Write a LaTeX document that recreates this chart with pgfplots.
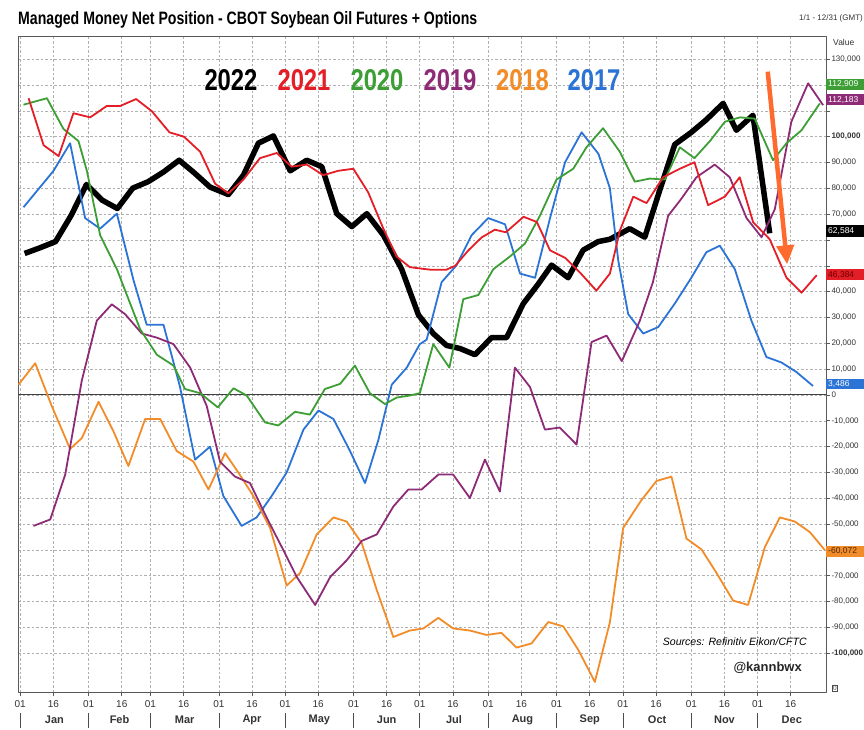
\documentclass[border=0pt]{standalone}
\usepackage{pgfplots}
\pgfplotsset{compat=1.18}
\usepackage{fontspec}
\setmainfont{Liberation Sans}
\usetikzlibrary{arrows.meta}
\definecolor{cRed}{HTML}{E41E26}
\definecolor{cGreen}{HTML}{3C9E34}
\definecolor{cPurple}{HTML}{8E2B76}
\definecolor{cOrange}{HTML}{F28C28}
\definecolor{cBlue}{HTML}{2B73D4}
\definecolor{cArrow}{HTML}{FF6A2E}
\definecolor{cGrid}{HTML}{B0B0B0}
\begin{document}
\begin{tikzpicture}[x=1pt,y=1pt]
\useasboundingbox (0,0) rectangle (864,729);
\node[anchor=base west, inner sep=0] at (18,704) {\resizebox{459pt}{13pt}{\bfseries Managed Money Net Position - CBOT Soybean Oil Futures + Options}};
\node[anchor=east, inner sep=0, font=\fontsize{8}{9}\selectfont, text=black!80] at (863,711) {1/1 - 12/31 (GMT)};
\begin{axis}[
  at={(18pt,37pt)}, anchor=south west, scale only axis,
  width=808pt, height=656pt,
  xmin=-1, xmax=365, ymin=-115, ymax=139,
  clip=false,
  axis line style={black!65, line width=0.8pt},
  xtick={0,15,31,46,59,74,90,105,120,135,151,166,181,196,212,227,243,258,273,288,304,319,334,349},
  xticklabels={01,16,01,16,01,16,01,16,01,16,01,16,01,16,01,16,01,16,01,16,01,16,01,16},
  xtick pos=bottom, xtick align=outside,
  ytick={-100,-90,...,130},
  yticklabels={\textbf{-100,000},{-90,000},{-80,000},{-70,000},{},{-50,000},{-40,000},{-30,000},{-20,000},{-10,000},0,{10,000},{20,000},{30,000},{40,000},{},{},{70,000},{80,000},{90,000},\textbf{100,000},{},{},{130,000}},
  ytick pos=right, yticklabel pos=right, ytick align=outside,
  major tick length=4pt,
  tick style={black!65, line width=0.7pt},
  grid=major,
  grid style={cGrid, dash pattern=on 2.5pt off 2pt, line width=0.6pt},
  xticklabel style={font=\fontsize{10}{11}\selectfont, text=black!80, yshift=-1pt},
  yticklabel style={font=\fontsize{8}{9}\selectfont, text=black!80, anchor=west, xshift=-2pt},
  extra y ticks={0}, extra y tick labels={},
  extra y tick style={grid style={solid, black!75, line width=1pt}, major tick length=0pt},
  /pgf/number format/assume math mode=true,
  line join=round,
]
% 2022
\addplot[black, line width=5.5pt] coordinates {(2,54.8) (9,57.0) (16,59.4) (23,69.4) (30,81.5) (37,75.5) (44,72.2) (51,80.1) (58,82.6) (65,86.4) (72,90.9) (79,85.9) (86,80.5) (94.3,77.6) (101.1,85.1) (107.9,97.5) (114.7,100.3) (122.3,86.8) (129.8,90.9) (136.6,88.4) (143.4,70.2) (150.2,65.2) (157,70.2) (164.5,61.9) (172.8,48.7) (180.4,31) (187.1,23.8) (193.1,19.2) (199.2,18) (206,15.6) (213.5,22.2) (220.3,22.2) (227.9,35.4) (234.6,42.9) (240.7,50.3) (248.2,45.4) (255,56.1) (261.8,59.4) (267.1,60.3) (276.1,64.4) (282.9,61.1) (289.7,79.3) (296.5,97) (304,101.7) (310.8,106.6) (318.4,112.9) (324.4,102.5) (331.9,108.3) (339.5,62.6)};
% 2017
\addplot[cBlue, line width=1.8pt] coordinates {(1.5,72.7) (15.1,86.8) (22.6,97.5) (29.4,68.5) (36.2,64.4) (43.8,70.2) (51.3,44.5) (57.3,27.2) (64.9,27.2) (72.4,3.1) (79.2,-25) (86,-20) (92,-39.1) (100.3,-50.7) (107.1,-47.4) (113.9,-39.1) (120.7,-30) (128.3,-13.4) (135.1,-6) (141.9,-9.3) (149.4,-21.7) (156.2,-34.1) (162.2,-17.5) (168.3,4) (175.1,10.6) (181,19.7) (184.1,21.4) (190.9,43.7) (197.7,50.3) (204.5,61.9) (212,68.5) (219.6,66.1) (226.4,47) (233.2,45.4) (240,68.5) (246.8,90.1) (254.3,101.7) (261.9,93.4) (267.1,80.1) (270.9,52) (275.4,31.3) (282.2,23.8) (289,26.3) (296.5,35.4) (304,45.4) (310.8,55.3) (316.9,57.8) (323.7,48.7) (331.2,28.8) (338,14.7) (344.8,12.6) (351.6,8.9) (359.1,3.5)};
% 2018
\addplot[cOrange, line width=1.8pt] coordinates {(-0.75,4) (6.8,12.3) (14.3,-4.3) (22.6,-20.9) (27.9,-16.7) (35.5,-2.6) (42.3,-14.2) (49,-27.5) (56.6,-9.3) (63.4,-9.3) (70.9,-21.7) (78.5,-25.8) (85.3,-36.6) (92.8,-22.5) (98.8,-30) (105.6,-39.1) (113.2,-51.5) (120.7,-73.8) (126.8,-68.9) (134.3,-54) (141.9,-47.4) (147.9,-49) (154.7,-57.3) (161.5,-75.5) (169,-93.7) (176.5,-91.2) (182.6,-90.4) (189.4,-86.3) (196.1,-90.4) (203.7,-91.2) (211.2,-92.9) (218,-92.1) (224.8,-97.8) (231.6,-96.2) (239.2,-87.9) (246,-89.6) (252.8,-98.7) (260.3,-111.1) (267.1,-88) (273.1,-51.5) (281.4,-40.7) (288.2,-33.3) (295,-31.6) (301.8,-55.6) (308.6,-59.8) (315.4,-68.9) (322.9,-79.6) (329.7,-81.3) (337.3,-58.9) (344.1,-47.4) (350.9,-49) (357.7,-53.1) (364.5,-60.1)};
% 2019
\addplot[cPurple, line width=1.8pt] coordinates {(6,-50.7) (13.6,-48.2) (20.4,-30.8) (27.9,5.6) (34.7,28.8) (41.5,35.1) (47.5,31.3) (55.1,23.8) (61.9,22.2) (69.4,19.7) (77,10.6) (84.5,-4.3) (90.5,-25.8) (97.3,-31.6) (104.1,-34.1) (111.6,-47.4) (118.5,-58.9) (125.3,-70.5) (133.6,-81.3) (140.4,-70.5) (148,-63.9) (154.7,-56.5) (161.5,-54) (169,-43.2) (175.8,-36.6) (181.8,-36.6) (189.4,-30.8) (196.1,-30.8) (203.7,-39.9) (210.5,-25) (217.3,-37.4) (224.1,10.6) (230.9,3.1) (237.7,-13.4) (244.4,-12.6) (252,-19.2) (258.8,20.5) (265.6,23) (272.5,13.1) (280.7,28.8) (286.6,43.7) (293.5,69.4) (299.5,76) (306.3,84.3) (314.6,89.2) (321.4,84.3) (329,68.5) (335.8,61.1) (341.8,71.9) (349.3,105.8) (356.9,120.7) (363.7,112.2)};
% 2020
\addplot[cGreen, line width=1.8pt] coordinates {(1.5,112.4) (12.1,114.9) (19.6,103) (26.4,98.3) (30.2,86.8) (36.2,61.9) (43.8,48.7) (54.3,25.5) (61.9,15.6) (69.4,11.4) (74.7,2.3) (81.5,0.7) (89.5,-4.8) (96.6,2.6) (102.6,-0.2) (110.9,-10.6) (116.9,-11.8) (124.5,-6.5) (131.2,-7.6) (138,2.3) (144.9,4.3) (151.6,11.4) (158.4,0.7) (165.2,-3.5) (170.5,-1) (176.5,-0.2) (181,0.7) (187.1,19.7) (194.4,10.6) (200.7,37.1) (207.5,38.7) (214.3,48.7) (221.8,53.6) (228.6,58.6) (235.4,69.4) (242.9,83.4) (250.5,87.6) (256.5,95.9) (264,103.3) (271.6,94.2) (278.4,82.6) (285.2,83.8) (292,83.4) (298.8,95.9) (305.4,91.7) (312.4,98.3) (319.2,105.8) (326,107.5) (332.7,107) (341,90.9) (347.1,97.5) (353.9,102.5) (362.2,112.9)};
% 2021
\addplot[cRed, line width=1.8pt] coordinates {(3.8,114.9) (10.6,96.7) (17.4,92.5) (24.1,109.1) (31.7,107.5) (39.2,111.9) (45.3,111.9) (52.5,114.6) (59.6,109.9) (67.6,101.7) (74.2,100) (81.5,94.2) (88.3,81.8) (94.3,78.1) (101.1,83.4) (108.6,91.7) (116.2,93.7) (122.9,88.4) (129.8,89.2) (137.3,85.1) (144,86.8) (150.9,87.6) (157.6,78.5) (164.5,64.4) (170.5,53.6) (176.5,49.5) (181,49) (186,48.5) (193,48.5) (197,50) (203,56) (209,61) (215,64) (220,63) (228,69) (234,67) (240,56) (247,53) (254,47) (261,40.4) (267.1,47) (271.6,63.6) (277.7,76.8) (283.7,74.3) (291.2,84.3) (298.8,87.6) (305.4,90.1) (311.6,73.5) (319.2,76.8) (325.9,84.3) (332,66.9) (339.5,60.3) (347.1,45.4) (353.9,39.6) (360.8,46.4)};
% annotation arrow
\draw[cArrow, line width=4.5pt, -{Triangle[length=19pt,width=17pt]}] (axis cs:338.6,125.2) -- (axis cs:347.4,50.6);
% month labels
\node[font=\fontsize{11}{12}\selectfont\bfseries, text=black!80] at (axis cs:15.5,-115) [yshift=-28pt] {Jan};
\node[font=\fontsize{11}{12}\selectfont\bfseries, text=black!80] at (axis cs:45,-115) [yshift=-28pt] {Feb};
\node[font=\fontsize{11}{12}\selectfont\bfseries, text=black!80] at (axis cs:74.5,-115) [yshift=-28pt] {Mar};
\node[font=\fontsize{11}{12}\selectfont\bfseries, text=black!80] at (axis cs:105,-115) [yshift=-28pt] {Apr};
\node[font=\fontsize{11}{12}\selectfont\bfseries, text=black!80] at (axis cs:135.5,-115) [yshift=-28pt] {May};
\node[font=\fontsize{11}{12}\selectfont\bfseries, text=black!80] at (axis cs:166,-115) [yshift=-28pt] {Jun};
\node[font=\fontsize{11}{12}\selectfont\bfseries, text=black!80] at (axis cs:196.5,-115) [yshift=-28pt] {Jul};
\node[font=\fontsize{11}{12}\selectfont\bfseries, text=black!80] at (axis cs:227.5,-115) [yshift=-28pt] {Aug};
\node[font=\fontsize{11}{12}\selectfont\bfseries, text=black!80] at (axis cs:258,-115) [yshift=-28pt] {Sep};
\node[font=\fontsize{11}{12}\selectfont\bfseries, text=black!80] at (axis cs:288.5,-115) [yshift=-28pt] {Oct};
\node[font=\fontsize{11}{12}\selectfont\bfseries, text=black!80] at (axis cs:319,-115) [yshift=-28pt] {Nov};
\node[font=\fontsize{11}{12}\selectfont\bfseries, text=black!80] at (axis cs:349.5,-115) [yshift=-28pt] {Dec};
% month separators
\draw[black!70, line width=0.8pt] ([yshift=-21pt]axis cs:0,-115) -- ([yshift=-36pt]axis cs:0,-115);
\draw[black!70, line width=0.8pt] ([yshift=-21pt]axis cs:31,-115) -- ([yshift=-36pt]axis cs:31,-115);
\draw[black!70, line width=0.8pt] ([yshift=-21pt]axis cs:59,-115) -- ([yshift=-36pt]axis cs:59,-115);
\draw[black!70, line width=0.8pt] ([yshift=-21pt]axis cs:90,-115) -- ([yshift=-36pt]axis cs:90,-115);
\draw[black!70, line width=0.8pt] ([yshift=-21pt]axis cs:120,-115) -- ([yshift=-36pt]axis cs:120,-115);
\draw[black!70, line width=0.8pt] ([yshift=-21pt]axis cs:151,-115) -- ([yshift=-36pt]axis cs:151,-115);
\draw[black!70, line width=0.8pt] ([yshift=-21pt]axis cs:181,-115) -- ([yshift=-36pt]axis cs:181,-115);
\draw[black!70, line width=0.8pt] ([yshift=-21pt]axis cs:212,-115) -- ([yshift=-36pt]axis cs:212,-115);
\draw[black!70, line width=0.8pt] ([yshift=-21pt]axis cs:243,-115) -- ([yshift=-36pt]axis cs:243,-115);
\draw[black!70, line width=0.8pt] ([yshift=-21pt]axis cs:273,-115) -- ([yshift=-36pt]axis cs:273,-115);
\draw[black!70, line width=0.8pt] ([yshift=-21pt]axis cs:304,-115) -- ([yshift=-36pt]axis cs:304,-115);
\draw[black!70, line width=0.8pt] ([yshift=-21pt]axis cs:334,-115) -- ([yshift=-36pt]axis cs:334,-115);
% last-value boxes
\node[fill=cGreen, text=white, anchor=west, inner xsep=2pt, inner ysep=2pt, text width=34pt, font=\fontsize{8.5}{9}\selectfont] at (axis cs:365,120.2) {112,909};
\node[fill=cPurple, text=white, anchor=west, inner xsep=2pt, inner ysep=2pt, text width=34pt, font=\fontsize{8.5}{9}\selectfont] at (axis cs:365,114.3) {112,183};
\node[fill=black, text=white, anchor=west, inner xsep=2pt, inner ysep=2pt, text width=34pt, font=\fontsize{8.5}{9}\selectfont] at (axis cs:365,63.5) {62,584};
\node[fill=cRed, text=black!60!red, anchor=west, inner xsep=2pt, inner ysep=2pt, text width=34pt, font=\fontsize{8.5}{9}\selectfont] at (axis cs:365,46.5) {46,384};
\node[fill=cBlue, text=white, anchor=west, inner xsep=2pt, inner ysep=1.5pt, text width=34pt, font=\fontsize{8.5}{9}\selectfont] at (axis cs:365,4.3) {3,486};
\node[fill=cOrange, text=black!70!cOrange, anchor=west, inner xsep=2pt, inner ysep=2pt, text width=34pt, font=\fontsize{8.5}{9}\selectfont] at (axis cs:365,-60.6) {-60,072};
\end{axis}
% legend of years
\node[inner sep=0, text=black] at (231,649) {\resizebox{53pt}{21pt}{\bfseries 2022}};
\node[inner sep=0, text=cRed] at (304,649) {\resizebox{53pt}{21pt}{\bfseries 2021}};
\node[inner sep=0, text=cGreen] at (377,649) {\resizebox{53pt}{21pt}{\bfseries 2020}};
\node[inner sep=0, text=cPurple] at (450,649) {\resizebox{53pt}{21pt}{\bfseries 2019}};
\node[inner sep=0, text=cOrange] at (522.5,649) {\resizebox{53pt}{21pt}{\bfseries 2018}};
\node[inner sep=0, text=cBlue] at (594,649) {\resizebox{53pt}{21pt}{\bfseries 2017}};
\node[anchor=west, inner sep=0, font=\fontsize{8.5}{9}\selectfont, text=black!80] at (833,687) {Value};
\node[draw=black!70, inner sep=0.8pt, font=\fontsize{6.5}{7}\selectfont, text=black!70] at (835,41) {0};
\node[anchor=east, inner sep=0] at (807,87) {\resizebox{144pt}{!}{\fontsize{10}{11}\selectfont\itshape Sources: Refinitiv Eikon/CFTC}};
\node[anchor=east, inner sep=0, font=\fontsize{13}{14}\selectfont\bfseries, text=black!85] at (802,61) {@kannbwx};
\end{tikzpicture}
\end{document}
